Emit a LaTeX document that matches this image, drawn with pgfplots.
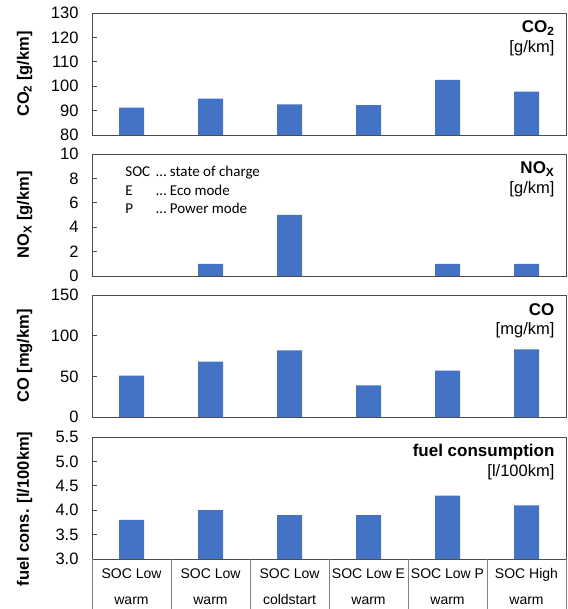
\documentclass[border=0pt]{standalone}
\usepackage{pgfplots}
\pgfplotsset{compat=1.18}
\usepackage{fontspec}
\setmainfont{Liberation Sans}
\newfontfamily\calibri{Carlito}
\definecolor{barblue}{HTML}{4472C4}
\pgfplotsset{
  panel/.style={
    scale only axis, width=474pt, height=122pt,
    xmin=-0.5, xmax=5.5,
    ybar, bar width=25pt,
    axis line style={draw=black!70, line width=0.8pt},
    tick style={draw=black!70, line width=0.8pt},
    tick align=inside, major tick length=5pt,
    ytick pos=left, xtick pos=bottom, xtick=\empty,
    /pgf/number format/assume math mode=true,
    yticklabel style={font=\fontsize{16.5}{18}\selectfont, xshift=-10pt},
    ylabel style={at={(axis description cs:-0.142,0.5)}, anchor=center, font=\bfseries\fontsize{16.5}{18}\selectfont},
    clip=true,
  },
}
\tikzset{
  ttl/.style={anchor=east, font=\bfseries\fontsize{17}{20}\selectfont},
  unit/.style={anchor=east, font=\fontsize{16.5}{19}\selectfont},
}
\begin{document}
\begin{tikzpicture}[x=1pt,y=1pt]
\useasboundingbox (0,0) rectangle (567,609);

% CO2
\begin{axis}[panel, at={(92pt,596pt)}, anchor=north west,
  ymin=80, ymax=130, ytick={80,90,...,130},
  ylabel={CO\textsubscript{2} [g/km]}]
\addplot[fill=barblue, draw=none] coordinates {(0,91.2) (1,94.9) (2,92.5) (3,92.2) (4,102.6) (5,97.8)};
\node[ttl] at (axis description cs:0.983,0.877) {CO\textsubscript{2}};
\node[unit] at (axis description cs:0.983,0.713) {[g/km]};
\end{axis}

% NOx (values 0 for categories 0 and 3 are not drawn)
\begin{axis}[panel, at={(92pt,455pt)}, anchor=north west,
  ymin=0, ymax=10, ytick={0,2,...,10},
  ylabel={NO\textsubscript{X} [g/km]}]
\addplot[fill=barblue, draw=none] coordinates {(1,1) (2,5) (4,1) (5,1)};
\node[ttl] at (axis description cs:0.983,0.877) {NO\textsubscript{X}};
\node[unit] at (axis description cs:0.983,0.713) {[g/km]};
\begin{scope}[every node/.style={anchor=base west, font=\calibri\fontsize{15}{18}\selectfont, inner sep=0pt}]
\node at (axis description cs:0.070,0.813) {SOC};
\node at (axis description cs:0.135,0.813) {\ldots{} state of charge};
\node at (axis description cs:0.070,0.659) {E};
\node at (axis description cs:0.135,0.659) {\ldots{} Eco mode};
\node at (axis description cs:0.070,0.512) {P};
\node at (axis description cs:0.135,0.512) {\ldots{} Power mode};
\end{scope}
\end{axis}

% CO
\begin{axis}[panel, at={(92pt,314pt)}, anchor=north west,
  ymin=0, ymax=150, ytick={0,50,...,150},
  ylabel={CO [mg/km]}]
\addplot[fill=barblue, draw=none] coordinates {(0,51) (1,68) (2,82) (3,39) (4,57) (5,83)};
\node[ttl] at (axis description cs:0.983,0.877) {CO};
\node[unit] at (axis description cs:0.983,0.713) {[mg/km]};
\end{axis}

% fuel
\begin{axis}[panel, at={(92pt,172pt)}, anchor=north west,
  ymin=3.0, ymax=5.5, ytick={3.0,3.5,...,5.5},
  yticklabel style={/pgf/number format/.cd, fixed, fixed zerofill, precision=1},
  ylabel={fuel cons. [l/100km]},
  ylabel style={at={(axis description cs:-0.142,0.41)}},
  xtick={0,1,2,3,4,5},
  xticklabels={{SOC Low\\warm},{SOC Low\\warm},{SOC Low\\coldstart},{SOC Low E\\warm},{SOC Low P\\warm},{SOC High\\warm}},
  xticklabel style={font=\fontsize{14}{26}\selectfont, align=center, yshift=-6pt},
  xtick style={draw=none},
  extra x ticks={-0.5,0.5,1.5,2.5,3.5,4.5,5.5},
  extra x tick labels={},
  extra x tick style={xtick style={draw=black!50, line width=0.8pt}, major tick length=60pt, tick align=outside},
  clip=false]
\addplot[fill=barblue, draw=none] coordinates {(0,3.8) (1,4.0) (2,3.9) (3,3.9) (4,4.3) (5,4.1)};
\node[ttl] at (axis description cs:0.983,0.877) {fuel consumption};
\node[unit] at (axis description cs:0.983,0.713) {[l/100km]};
\end{axis}
\end{tikzpicture}
\end{document}
